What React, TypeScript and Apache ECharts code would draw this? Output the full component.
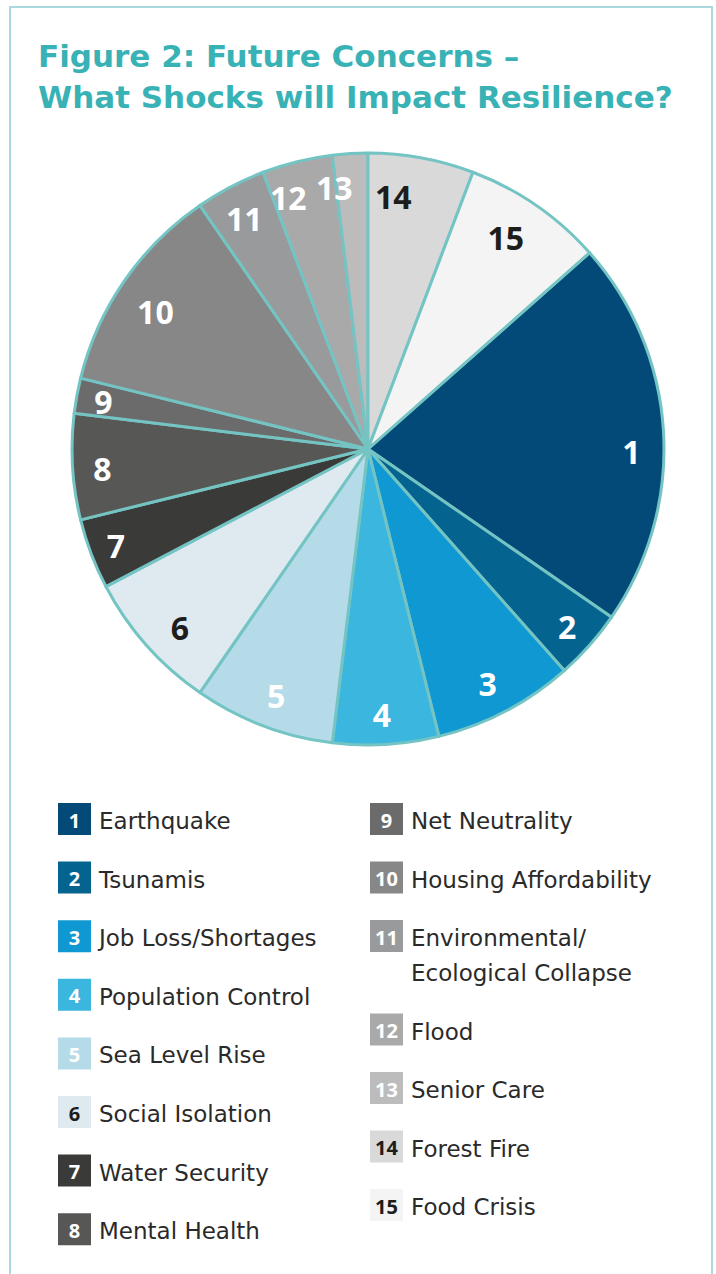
import React, { useEffect, useRef } from "react";
import * as echarts from "echarts";

const categories = [
  "Earthquake",
  "Tsunamis",
  "Job Loss/Shortages",
  "Population Control",
  "Sea Level Rise",
  "Social Isolation",
  "Water Security",
  "Mental Health",
  "Net Neutrality",
  "Housing Affordability",
  "Environmental/\nEcological Collapse",
  "Flood",
  "Senior Care",
  "Forest Fire",
  "Food Crisis",
];
const values = [11, 2, 4, 3, 4, 4, 2, 3, 1, 6, 2, 2, 1, 3, 4];
const sliceColors = [
  "#044a79", "#04638f", "#0f98d1", "#3bb6df", "#b5dbe9", "#dfeaf0",
  "#3a3a39", "#575756", "#6b6b6c", "#878788", "#999a9b", "#a9a9aa",
  "#bcbcbd", "#d9d9da", "#f4f4f4",
];
const numberColors = [
  "#fff", "#fff", "#fff", "#fff", "#fff", "#1d1d1b",
  "#fff", "#fff", "#fff", "#fff", "#fff", "#fff",
  "#fff", "#1d1d1b", "#1d1d1b",
];
// small hand placement nudges of the slice numbers (style only)
const labelNudges = [
  [2, 18], [3, 4], [-2, 3], [-2, 4], [1, 2], [8, 5], [-7, 4], [-4, 4],
  [-7, 0], [3, 11], [-2, 1], [-17, 3], [-18, 0], [-22, 5], [-11, 4],
];
const titleLines = ["Figure 2: Future Concerns –", "What Shocks will Impact Resilience?"];

const NUM_FONT = "'Noto Sans', sans-serif";
const TXT_FONT = "'DejaVu Sans', sans-serif";

export default function App() {
  const ref = useRef<HTMLDivElement>(null);
  useEffect(() => {
    const chart = echarts.init(ref.current!, null, { renderer: "svg" });
    const total = values.reduce((a, b) => a + b, 0);
    const startAngle = 90 - ((values[13] + values[14]) / total) * 360;
    const data = values.map((v, i) => ({
      name: String(i + 1),
      value: v,
      itemStyle: { color: sliceColors[i] },
      label: { color: numberColors[i], offset: labelNudges[i] },
    }));

    const graphics: any[] = [];
    graphics.push({
      type: "polyline",
      shape: { points: [[10, 1274], [10, 7], [712, 7], [712, 1274]] },
      style: { stroke: "#a9d9dc", lineWidth: 2, fill: "none" },
      silent: true,
    });
    titleLines.forEach((t, i) => {
      graphics.push({
        type: "text",
        x: 38,
        y: 56 + i * 41,
        style: {
          text: t,
          fill: "#38b2b5",
          font: `bold 31px ${TXT_FONT}`,
          verticalAlign: "middle",
        },
      });
    });
    const leftYs = [0, 1, 2, 3, 4, 5, 6, 7].map((k) => 819 + k * 58.6);
    const rightYs = [819, 877.5, 936, 1029.5, 1088, 1146.5, 1205];
    categories.forEach((c, i) => {
      const left = i < 8;
      const cy = left ? leftYs[i] : rightYs[i - 8];
      const sx = left ? 58 : 370;
      graphics.push({
        type: "rect",
        shape: { x: sx, y: cy - 16, width: 33, height: 32 },
        style: { fill: sliceColors[i] },
      });
      graphics.push({
        type: "text",
        x: sx + 16.5,
        y: cy + 1,
        style: {
          text: String(i + 1),
          fill: numberColors[i],
          font: `bold 20px ${NUM_FONT}`,
          align: "center",
          verticalAlign: "middle",
        },
      });
      const lines = c.split("\n");
      lines.forEach((ln, k) => {
        graphics.push({
          type: "text",
          x: sx + 41,
          y: cy + 2 + k * 35,
          style: {
            text: ln,
            fill: "#2a2a2a",
            font: `23px ${TXT_FONT}`,
            verticalAlign: "middle",
          },
        });
      });
    });

    chart.setOption({
      animation: false,
      graphic: graphics,
      series: [
        {
          type: "pie",
          center: [368, 449],
          radius: [0, 296],
          startAngle,
          clockwise: true,
          data,
          label: { show: false },
          labelLine: { show: false },
          itemStyle: { borderColor: "#74c4c4", borderWidth: 3 },
          emphasis: { disabled: true },
          silent: true,
        },
        {
          type: "pie",
          center: [368, 449],
          radius: [222, 296],
          startAngle,
          clockwise: true,
          data: data.map((d) => ({ ...d, itemStyle: { color: "transparent" } })),
          label: {
            show: true,
            position: "inside",
            formatter: "{b}",
            fontFamily: NUM_FONT,
            fontWeight: "bold",
            fontSize: 32,
          },
          labelLine: { show: false },
          itemStyle: { borderWidth: 0 },
          emphasis: { disabled: true },
          silent: true,
        },
      ],
    });
    return () => chart.dispose();
  }, []);
  return (
    <div
      ref={ref}
      style={{ position: "fixed", left: 0, top: 0, width: 716, height: 1274, background: "#fff" }}
    />
  );
}
